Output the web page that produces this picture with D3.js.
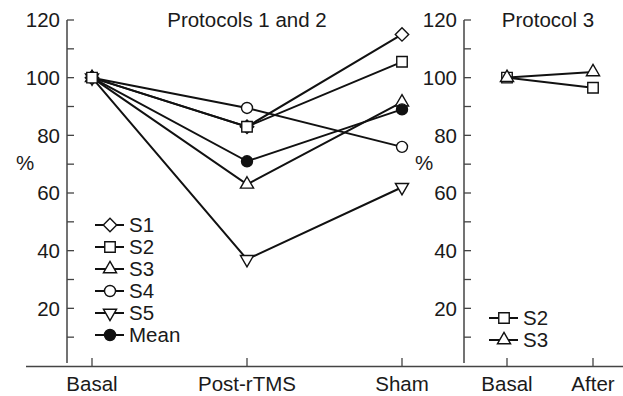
<!DOCTYPE html>
<html>
<head>
<meta charset="utf-8">
<script src="https://cdn.jsdelivr.net/npm/d3@7"></script>
<style>
  body { margin: 0; background: #fff; }
  text { font-family: "Liberation Sans", Arial, sans-serif; fill: #1a1a1a; }
</style>
</head>
<body>
<div id="chart"></div>
<script>
// data
var phases12 = ["Basal", "Post-rTMS", "Sham"];
var phases3 = ["Basal", "After"];
var s1 = [100, 83, 115];
var s2 = [100, 83, 105.5];
var s3 = [100, 63, 91.5];
var s4 = [100, 89.5, 76];
var s5 = [100, 37, 62];
var mean = [100, 71, 89];
var p3s2 = [100, 96.5];
var p3s3 = [100, 102];
var yTicks = [20, 40, 60, 80, 100, 120];
var yMinor = [10, 30, 50, 70, 90, 110];

var W = 623, H = 396, FS = 20.5;
var svg = d3.select("#chart").append("svg").attr("width", W).attr("height", H);

var y = d3.scaleLinear().domain([0, 120]).range([366, 20]);
var xL = d3.scalePoint().domain(phases12).range([92, 402]);
var xR = d3.scalePoint().domain(phases3).range([507, 593]);

var axisCol = "#444";

// bottom axis line (continuous)
svg.append("line").attr("x1", 26).attr("x2", 623).attr("y1", 366.5).attr("y2", 366.5)
  .attr("stroke", axisCol).attr("stroke-width", 1.5);

function yAxis(x0) {
  var g = svg.append("g");
  g.append("line").attr("x1", x0).attr("x2", x0).attr("y1", y(120)).attr("y2", 363)
    .attr("stroke", axisCol).attr("stroke-width", 1.5);
  g.selectAll(".tk").data(yTicks.concat(yMinor)).enter().append("line")
    .attr("x1", x0).attr("x2", x0 + 7)
    .attr("y1", function(d) { return y(d); }).attr("y2", function(d) { return y(d); })
    .attr("stroke", axisCol).attr("stroke-width", 1.3);
  g.selectAll("text").data(yTicks).enter().append("text")
    .attr("x", x0 - 7).attr("y", function(d) { return y(d); })
    .attr("dy", "0.36em").attr("text-anchor", "end").attr("font-size", FS)
    .text(function(d) { return d; });
}
yAxis(67);
yAxis(464);

function xAxis(scale, cats) {
  svg.selectAll(null).data(cats).enter().append("line")
    .attr("x1", function(d) { return scale(d); }).attr("x2", function(d) { return scale(d); })
    .attr("y1", 366).attr("y2", 358).attr("stroke", axisCol).attr("stroke-width", 1.3);
  svg.selectAll(null).data(cats).enter().append("text")
    .attr("x", function(d) { return scale(d); }).attr("y", 391)
    .attr("text-anchor", "middle").attr("font-size", FS)
    .text(function(d) { return d; });
}
xAxis(xL, phases12);
xAxis(xR, phases3);

svg.append("text").attr("x", 25).attr("y", 170).attr("text-anchor", "middle").attr("font-size", FS).text("%");
svg.append("text").attr("x", 424).attr("y", 170).attr("text-anchor", "middle").attr("font-size", FS).text("%");
svg.append("text").attr("x", 247).attr("y", 27).attr("text-anchor", "middle").attr("font-size", FS).text("Protocols 1 and 2");
svg.append("text").attr("x", 548).attr("y", 27).attr("text-anchor", "middle").attr("font-size", FS).text("Protocol 3");

// markers
var shapes = {
  diamond: { type: d3.symbolSquare, size: 90, rot: 45, fill: "#fff" },
  square: { type: d3.symbolSquare, size: 110, rot: 0, fill: "#fff" },
  triangle: { type: d3.symbolTriangle, size: 75, rot: 0, fill: "#fff" },
  circle: { type: d3.symbolCircle, size: 95, rot: 0, fill: "#fff" },
  down: { type: d3.symbolTriangle, size: 75, rot: 180, fill: "#fff" },
  dot: { type: d3.symbolCircle, size: 95, rot: 0, fill: "#111" }
};

function marker(g, shape, cx, cy) {
  var s = shapes[shape];
  g.append("path").attr("d", d3.symbol().type(s.type).size(s.size)())
    .attr("transform", "translate(" + cx + "," + cy + ") rotate(" + s.rot + ")")
    .attr("fill", s.fill).attr("stroke", "#111").attr("stroke-width", 1.4);
}

var line = d3.line();
function series(scale, cats, vals, shape) {
  var pts = cats.map(function(c, i) { return [scale(c), y(vals[i])]; });
  var g = svg.append("g");
  g.append("path").attr("d", line(pts)).attr("fill", "none")
    .attr("stroke", "#111").attr("stroke-width", 2);
  pts.forEach(function(p) { marker(g, shape, p[0], p[1]); });
}

var left = [
  { name: "S5", vals: s5, shape: "down" },
  { name: "S3", vals: s3, shape: "triangle" },
  { name: "S4", vals: s4, shape: "circle" },
  { name: "Mean", vals: mean, shape: "dot" },
  { name: "S1", vals: s1, shape: "diamond" },
  { name: "S2", vals: s2, shape: "square" }
];
left.forEach(function(d) { series(xL, phases12, d.vals, d.shape); });
series(xR, phases3, p3s2, "square");
series(xR, phases3, p3s3, "triangle");

// legends
function legend(items, x0, y0) {
  items.forEach(function(d, i) {
    var g = svg.append("g");
    var yy = y0 + i * 22;
    g.append("line").attr("x1", x0).attr("x2", x0 + 29).attr("y1", yy).attr("y2", yy)
      .attr("stroke", "#111").attr("stroke-width", 2);
    marker(g, d[1], x0 + 15, yy);
    g.append("text").attr("x", x0 + 34).attr("y", yy).attr("dy", "0.36em")
      .attr("font-size", FS).text(d[0]);
  });
}
legend([["S1", "diamond"], ["S2", "square"], ["S3", "triangle"], ["S4", "circle"], ["S5", "down"], ["Mean", "dot"]], 95, 225);
legend([["S2", "square"], ["S3", "triangle"]], 489, 318);
</script>
</body>
</html>
